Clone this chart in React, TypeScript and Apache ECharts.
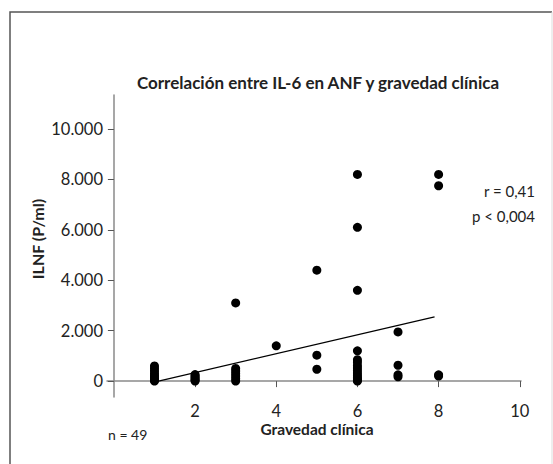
import React, { useEffect, useRef } from "react";
import * as echarts from "echarts";

const xTicks = [2, 4, 6, 8, 10];
const yTicks = [0, 2000, 4000, 6000, 8000, 10000];

// Gravedad clínica per point
const severity = [
  1, 1, 1, 1, 1, 1, 1, 1, 1,
  2, 2, 2, 2, 2, 2,
  3, 3, 3, 3, 3, 3, 3,
  4,
  5, 5, 5,
  6, 6, 6, 6, 6, 6, 6, 6, 6, 6, 6, 6, 6, 6, 6,
  7, 7, 7, 7,
  8, 8, 8, 8,
];
// ILNF (P/ml) per point
const ilnf = [
  0, 30, 80, 150, 220, 300, 400, 500, 600,
  0, 40, 90, 150, 200, 260,
  0, 100, 200, 300, 400, 500, 3100,
  1400,
  4400, 1030, 470,
  8200, 6100, 3600, 1200, 850, 750, 620, 520, 420, 320, 230, 150, 80, 30, 0,
  1950, 630, 250, 170,
  8200, 7750, 250, 200,
];
const fitLine = [
  [1.1, 0],
  [7.9, 2550],
];

const fmt = (v: number) =>
  String(Math.round(v)).replace(/\B(?=(\d{3})+(?!\d))/g, ".");

export default function App() {
  const ref = useRef<HTMLDivElement>(null);
  useEffect(() => {
    if (!ref.current) return;
    const chart = echarts.init(ref.current, null, { renderer: "svg" });
    const font = "Lato, 'Open Sans', sans-serif";
    const axisColor = "#8a8a8a";
    chart.setOption({
      animation: false,
      backgroundColor: "#fff",
      textStyle: { fontFamily: font },
      grid: { left: 107, right: 32, top: 95, bottom: 67 },
      xAxis: {
        type: "value",
        min: -0.17,
        max: 10.03,
        splitLine: { show: false },
        axisLine: { onZero: true, lineStyle: { color: axisColor, width: 1.5 } },
        axisTick: {
          show: true,
          length: 6,
          customValues: xTicks,
          lineStyle: { color: "#555", width: 1 },
        },
        axisLabel: {
          customValues: xTicks,
          color: "#222",
          fontSize: 16.5,
          fontFamily: font,
          margin: 5,
        },
      },
      yAxis: {
        type: "value",
        min: -630,
        max: 11350,
        splitLine: { show: false },
        axisLine: { show: true, onZero: true, lineStyle: { color: axisColor, width: 1.5 } },
        axisTick: {
          show: true,
          length: 6,
          customValues: yTicks,
          lineStyle: { color: "#555", width: 1 },
        },
        axisLabel: {
          customValues: yTicks,
          color: "#222",
          fontSize: 16.5,
          fontFamily: font,
          margin: 4,
          formatter: (v: number) => fmt(v),
        },
      },
      series: [
        {
          type: "scatter",
          data: severity.map((x, i) => [x, ilnf[i]]),
          symbolSize: 9,
          itemStyle: { color: "#000", opacity: 1 },
        },
        {
          type: "line",
          data: fitLine,
          symbol: "none",
          lineStyle: { color: "#000", width: 1.2 },
        },
      ],
      graphic: [
        {
          type: "polyline",
          shape: { points: [[10, 464], [10, 12], [552, 12]] },
          style: { stroke: "#555", lineWidth: 1.5, fill: "none" },
        },
        {
          type: "line",
          shape: { x1: 552, y1: 12, x2: 552, y2: 464 },
          style: { stroke: "#ddd", lineWidth: 1 },
        },
        {
          type: "text",
          x: 318,
          y: 82,
          style: {
            text: "Correlación entre IL-6 en ANF y gravedad clínica",
            fontSize: 17,
            fontWeight: "bold",
            fontFamily: font,
            fill: "#222",
            textAlign: "center",
            textVerticalAlign: "middle",
          },
        },
        {
          type: "text",
          x: 37,
          y: 239,
          rotation: Math.PI / 2,
          style: {
            text: "ILNF (P/ml)",
            fontSize: 16,
            fontWeight: "bold",
            fontFamily: font,
            fill: "#222",
            textAlign: "center",
            textVerticalAlign: "middle",
          },
        },
        {
          type: "text",
          x: 317,
          y: 429,
          style: {
            text: "Gravedad clínica",
            fontSize: 15.5,
            fontWeight: "bold",
            fontFamily: font,
            fill: "#222",
            textAlign: "center",
            textVerticalAlign: "middle",
          },
        },
        {
          type: "text",
          x: 108,
          y: 434,
          style: {
            text: "n = 49",
            fontSize: 14,
            fontFamily: font,
            fill: "#222",
            textAlign: "left",
            textVerticalAlign: "middle",
          },
        },
        {
          type: "text",
          x: 535,
          y: 191,
          style: {
            text: "r = 0,41",
            fontSize: 15,
            fontFamily: font,
            fill: "#222",
            textAlign: "right",
            textVerticalAlign: "middle",
          },
        },
        {
          type: "text",
          x: 535,
          y: 216,
          style: {
            text: "p < 0,004",
            fontSize: 15,
            fontFamily: font,
            fill: "#222",
            textAlign: "right",
            textVerticalAlign: "middle",
          },
        },
      ],
    });
    return () => chart.dispose();
  }, []);
  return (
    <div
      ref={ref}
      style={{ position: "fixed", left: 0, top: 0, width: 553, height: 464 }}
    />
  );
}
